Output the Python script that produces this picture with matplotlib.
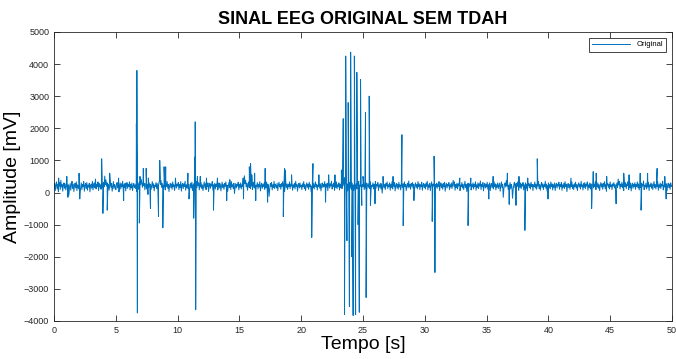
import numpy as np
import matplotlib
matplotlib.use("Agg")
import matplotlib.pyplot as plt

plt.rcParams['font.family'] = ['Liberation Sans', 'DejaVu Sans']

# background EEG activity, read every 0.05 s (mV), one row per second
baseline = [
    150, 290, 60, 240, 330, 110, 260, 20, 200, 310, 90, 380, 170, 250, 40, 220, 300, 130, 270, 80,
    190, 320, 100, 240, -80, 160, 280, 70, 230, 350, 120, 260, 30, 210, 290, 140, 330, 60, 240, 180,
    110, 270, -40, 150, 300, 90, 250, 180, 340, 40, 220, 280, 120, 310, 70, 230, 170, 290, 20, 200,
    260, 130, 350, 80, 240, 300, 150, 420, 110, 250, 190, 330, 60, 280, 170, 240, 100, 360, 150, 270,
    320, 180, 510, 240, 390, 200, 300, 130, 260, 70, 230, 310, 160, 280, 40, 200, 340, 120, 250, 180,
    90, 260, 310, 140, 230, 20, 190, 300, 110, 270, 180, 350, 70, 240, 160, 290, 50, 220, 310, 130,
    250, 190, 330, 80, 260, 140, 300, 60, 210, 280, 150, 240, 120, 310, 30, 200, 270, 100, 330, 180,
    240, 410, 290, 160, 360, 210, 280, 80, 230, 320, 110, 250, -60, 170, 300, 140, 260, 90, 220, 340,
    150, 270, 50, 230, 190, 310, 120, 280, 70, 240, 320, 430, 250, 380, 160, 290, 100, 230, 170, 300,
    80, 260, 190, 340, 130, 250, 30, 210, 290, 150, 270, 100, 330, 180, 240, 60, 220, 300, 140, 260,
    200, 310, 90, 250, 160, 340, 40, 230, 280, 120, 270, 190, 350, 70, 240, 150, 300, 110, 260, 20,
    180, 290, 140, 320, 60, 230, 270, 100, 250, 190, 340, 150, 410, 220, 300, 80, 260, 170, 310, 120,
    240, 60, 210, 330, 160, 270, 90, 250, 180, 300, 30, 220, 290, 130, 260, 200, 340, 70, 240, 150,
    290, 110, 260, 190, 350, 80, 230, 300, 140, 270, 50, 210, 320, 160, 250, 100, 280, 190, 330, 120,
    230, 40, 200, 310, 150, 260, 90, 340, 180, 240, 120, 290, -30, 170, 280, 140, 250, 200, 320, 80,
    260, 160, 300, 110, 240, 190, 450, 300, 520, 270, 380, 180, 290, 70, 230, 330, 150, 260, 120, 280,
    200, 90, 250, 320, 140, 270, 60, 230, 190, 310, 110, 260, 170, 340, 50, 210, 290, 130, 250, 180,
    300, 100, 240, 150, 330, 70, 260, 200, -120, 120, 280, 190, 310, 80, 240, 160, 350, 120, 260, 210,
    140, 290, 60, 230, 320, 170, 250, 100, 280, 190, 340, 130, 240, 30, 220, 300, 150, 270, 90, 250,
    180, 330, 120, 260, 200, 310, 70, 240, 160, 290, 110, 350, 190, 250, 40, 220, 280, 140, 300, 170,
    230, 90, 270, 190, 340, 120, 250, 60, 210, 300, 160, 260, 100, 320, 180, 240, 20, 200, 290, 150,
    270, 110, 240, 330, 170, 260, 80, 230, 190, 310, 130, 270, 50, 220, 300, 150, 260, 190, 340, 100,
    250, 170, 290, 60, 230, 320, 140, 270, 200, 350, 110, 240, 180, 300, 70, 260, 150, 330, 120, 240,
    190, 300, 80, 250, 160, 340, 120, 260, 380, 210, 460, 250, 330, 120, 270, 50, 240, 190, 310, 140,
    260, 100, 300, 180, 240, 60, 220, 330, 150, 270, 110, 290, 170, 350, 80, 240, 200, 310, 130, 250,
    190, 320, 90, 260, 140, 300, 40, 210, 280, 160, 250, 120, 330, 70, 230, 190, 300, 110, 260, 180,
    340, 130, 250, 200, 310, 60, 240, 170, 290, 110, 270, -20, 190, 320, 150, 250, 90, 280, 200, 330,
    120, 240, 180, 300, 70, 260, 150, 340, 110, 230, 190, 310, 50, 220, 280, 140, 260, 100, 320, 170,
    240, 80, 210, 300, 160, 270, 120, 330, 190, 250, 60, 230, 290, 140, 360, 170, 250, 100, 280, 200,
    310, 130, 260, 40, 220, 300, 160, 250, 110, 340, 180, 270, 90, 240, 190, 320, 70, 230, 280, 150,
    260, 110, 300, 190, 350, 80, 240, 160, 290, 60, 220, 330, 140, 260, 200, 310, 100, 250, 170, 290,
    130, 270, 190, 340, 60, 230, 300, 150, 260, 100, 280, 180, 320, 40, 210, 290, 140, 250, 200, 310,
    90, 240, 170, 300, 120, 260, 380, 190, 330, 70, 250, 150, 290, 110, 270, 200, 340, 60, 230, 180,
    310, 140, 260, 90, 220, 350, 160, 250, 30, 200, 290, 130, 270, 190, 320, 80, 240, 170, 300, 110,
    260, 190, 330, 70, 240, 150, 300, 120, 270, 200, 360, 90, 250, 180, 310, 50, 220, 280, 140, 260,
    170, 320, 100, 240, 190, 300, 60, 230, 280, 150, 250, 110, 340, 180, 270, 80, 240, 160, 300, 130,
    220, 290, 40, 210, 330, 150, 260, -150, 120, 240, 300, 170, 380, 200, 280, 90, 230, 170, 310, 110,
    250, 180, -180, 90, 240, 320, 150, 270, 100, 290, 190, 340, 70, 230, 160, 300, 120, 260, 200, 310,
    80, 240, 170, 300, 130, 260, 50, 220, 290, 150, 270, 110, 320, 190, 250, 60, 240, 180, 330, 140,
    260, 100, 290, 200, 340, 120, 250, 70, 230, 310, 160, 270, 90, 240, 190, 350, 130, 260, 40, 210,
    300, 150, 250, 110, 330, 180, 270, 80, 240, 160, 300, 60, 230, 290, 140, 260, 200, 320, 100, 250,
    190, 310, 70, 240, 160, 290, 120, 340, 180, 260, 30, 210, 280, 150, 250, 100, 300, 190, 330, 130,
    240, 90, 270, 180, 320, 140, 250, 60, 230, 300, 170, 260, 110, 350, 190, 240, 80, 290, 160, 310,
    120, 260, 200, 330, 70, 240, 150, 300, 110, 270, -80, 180, 290, 140, 260, 190, 340, 90, 230, 170,
    300, 130, 250, 60, 220, 310, 170, 270, 100, 290, 190, 340, 120, 250, 40, 230, 280, 160, 260, 110,
    330, 180, 240, 90, 270, 200, 310, 140, 250, 70, 220, 300, 160, 420, 230, 350, 110, 260, 190, 320,
    140, 270, 60, 240, 180, 310, 120, 260, 210, 340, 90, 230, 150, 300, 50, 220, 290, 130, 260, 180,
    310, 100, 250, 190, 330, 140, 270, 80, 240, 160, 300, 120, 260, 200, 360, 90, 230, 170, 290, 110,
    250, 170, 320, 60, 240, 190, 300, 130, 270, 90, 230, 340, 160, 250, 110, 290, 180, 330, 70, 240,
    160, 300, 120, 260, 200, 350, 80, 230, 170, 310, 140, 270, 50, 220, 290, 150, 260, 100, 300, 190,
    220,
]

# large artefacts and the central burst (time s, amplitude mV)
spike_t = [3.85, 3.95, 4.3, 4.5,
           6.66, 6.70, 6.74, 6.90, 6.95,
           7.45, 7.8, 8.45, 8.55, 8.8, 8.9,
           11.3, 11.38, 11.42, 11.46, 11.6, 12.9,
           15.8, 15.9, 16.0, 18.55, 18.65, 20.85, 20.95,
           23.25, 23.4, 23.5, 23.6, 23.7, 23.8, 23.9, 24.0, 24.1, 24.2, 24.3,
           24.4, 24.5, 24.6, 24.7, 24.8, 24.9, 25.0, 25.2, 25.25, 25.5, 25.6,
           28.15, 28.25, 30.6, 30.75, 30.82, 33.5,
           38.1, 39.1, 43.5, 46.1, 47.5, 48.8]
spike_v = [1050, -650, -550, 600,
           2150, 3800, -3750, -950, 500,
           750, -500, -750, 1000, -1100, 800,
           -800, 1100, 2200, -3650, 500, -550,
           800, 900, 550, -750, 750, -1400, 900,
           700, 2300, -3800, 4250, -1500, 2800, -3550, 4370, -2000, -3830, 4250,
           -3800, 3740, -1000, -3730, 3520, -400, 500, 2490, -3270, 3000, -400,
           1800, -1030, -900, 1130, -2490, -1030,
           -1180, 1050, -500, 600, -550, 750]

# smaller excursions poking out of the background band
minor_t = [0.37, 1.03, 1.12, 2.02, 2.08, 5.22, 5.63, 7.22, 7.63, 9.03, 9.82,
           10.83, 10.92, 11.83, 12.33, 13.22, 13.97, 14.22, 15.33, 16.23, 16.32,
           17.08, 17.28, 18.72, 19.22, 21.43, 21.97, 22.22, 22.73,
           25.97, 26.62, 27.43, 29.12, 32.83, 33.72, 35.18, 35.53, 36.68, 36.83,
           37.38, 37.62, 38.33, 39.97, 41.83, 43.63, 43.87, 44.72, 45.48,
           46.53, 47.43, 48.03, 49.42, 49.53]
minor_v = [450, 500, -150, 600, -200, 450, -250, 750, 450, 800, 450,
           600, -200, 500, 450, 450, -250, 400, -200, 600, -250,
           750, -300, 700, 550, 550, -300, 550, 550,
           -350, 500, 500, -250, 450, 450, -200, 500, 600, -370,
           -400, 500, 450, -200, 450, 650, 600, 500, -350,
           550, 600, 600, 500, -200]

t_base = np.linspace(0, 50, len(baseline))
t = np.concatenate([t_base, spike_t, minor_t])
v = np.concatenate([baseline, spike_v, minor_v])
order = np.argsort(t, kind="stable")
t, v = t[order], v[order]

fig = plt.figure(figsize=(6.76, 3.59), dpi=100)
ax = fig.add_axes([0.080, 0.106, 0.914, 0.805])
ax.plot(t, v, color='#0072BD', lw=0.7, label='Original')

ax.set_xlim(0, 50)
ax.set_ylim(-4000, 5000)
ax.set_xticks(np.arange(0, 51, 5))
ax.set_yticks(np.arange(-4000, 5001, 1000))
ax.tick_params(direction='in', top=True, right=True, labelsize=6.5,
               colors='#262626', length=4, width=0.6)
for s in ax.spines.values():
    s.set_color('#262626')
    s.set_linewidth(0.6)

ax.set_title('SINAL EEG ORIGINAL SEM TDAH', fontsize=13, fontweight='bold', pad=6)
ax.set_xlabel('Tempo [s]', fontsize=14, labelpad=1)
ax.set_ylabel('Amplitude [mV]', fontsize=14, labelpad=2)

leg = ax.legend(loc='upper right', fontsize=5.5, fancybox=False, framealpha=1,
                borderaxespad=0.8, handlelength=5)
leg.get_frame().set_edgecolor('#262626')
leg.get_frame().set_linewidth(0.6)

fig.savefig('out.png', dpi=100)
